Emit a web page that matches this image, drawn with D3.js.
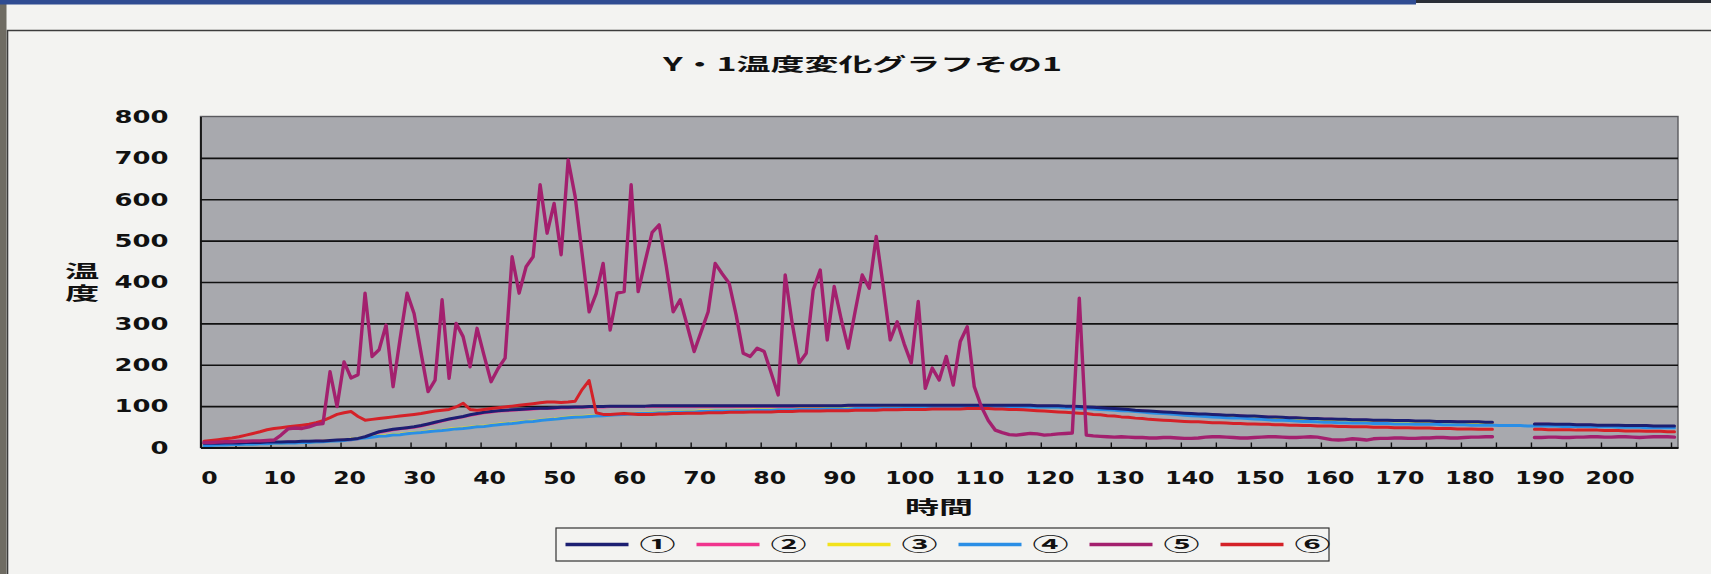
<!DOCTYPE html>
<html>
<head>
<meta charset="utf-8">
<script src="https://cdn.jsdelivr.net/npm/d3@7"></script>
<style>
  html, body { margin: 0; padding: 0; background: #f3f3f1; }
  svg { display: block; }
</style>
</head>
<body>
<svg id="chart" width="1711" height="574"></svg>
<script>
// ---- chart text ----
const chartTitle = "Y・1温度変化グラフその1";
const yTitle = "温度";
const xTitle = "時間";
const seriesNames = ["①", "②", "③", "④", "⑤", "⑥"];
const seriesColors = ["#1c1f72", "#f0348e", "#f2e21c", "#2a8ee6", "#a3206e", "#d42128"];

// ---- axes ----
const yTicks = [0, 100, 200, 300, 400, 500, 600, 700, 800];
const gridValues = [100, 200, 300, 400, 500, 600, 700];
const xTickLabels = [0, 10, 20, 30, 40, 50, 60, 70, 80, 90, 100, 110, 120, 130, 140, 150, 160, 170, 180, 190, 200];
const xTickMarks = [0, 5, 10, 15, 20, 25, 30, 35, 40, 45, 50, 55, 60, 65, 70, 75, 80, 85, 90, 95, 100,
  105, 110, 115, 120, 125, 130, 135, 140, 145, 150, 155, 160, 165, 170, 175, 180, 185, 190, 195, 200, 205, 210];

// time in minutes, one category per minute (0 … 210)
const categories = d3.range(0, 211);

// ---- temperature series (null = no reading) ----
const s1 = [
  10,10,10,11,11,11,12,12,12,13, 13,13,14,14,15,15,16,16,17,18,
  19,20,22,26,32,38,41,44,46,48, 50,53,57,61,65,69,72,75,79,82,
  85,87,89,90,91,92,93,94,95,95, 96,97,97,98,98,99,99,99,100,100,
  100,100,100,100,101,101,101,101,101,101, 101,101,101,101,101,101,101,101,101,101,
  101,101,101,101,101,101,101,101,101,101, 101,101,102,102,102,102,102,102,102,102,
  102,102,102,102,102,102,102,102,102,102, 102,102,102,102,102,102,102,102,102,101,
  101,101,101,100,100,99,98,97,96,95, 94,93,92,90,89,88,87,86,85,84,
  83,82,81,81,80,79,78,78,77,76, 76,75,74,74,73,72,72,71,70,70,
  69,69,68,68,67,67,67,66,66,66, 65,65,65,64,64,64,63,63,63,62,
  62,62,62,61,61,null,null,null,null,null, 57,57,57,56,56,56,55,55,55,54,
  54,54,54,53,53,53,53,52,52,52,52
];
const s2 = [
  9,9,9,10,10,10,11,11,11,12, 12,12,13,13,14,14,15,15,16,17,
  18,19,21,25,31,37,40,43,45,47, 49,52,56,60,64,68,71,74,78,81,
  84,86,88,89,90,91,92,93,94,94, 95,96,96,97,97,98,98,98,99,99,
  99,99,99,99,100,100,100,100,100,100, 100,100,100,100,100,100,100,100,100,100,
  100,100,100,100,100,100,100,100,100,100, 100,100,101,101,101,101,101,101,101,101,
  101,101,101,101,101,101,101,101,101,101, 101,101,101,101,101,101,101,101,100,100,
  100,100,99,99,98,97,96,95,94,93, 92,91,90,89,88,87,86,85,84,83,
  82,81,80,80,79,78,77,77,76,75, 75,74,73,73,72,71,71,70,69,69,
  68,68,67,67,66,66,66,65,65,65, 64,64,64,63,63,63,62,62,62,61,
  61,61,61,60,60,null,null,null,null,null, 56,56,56,55,55,55,54,54,54,53,
  53,53,53,52,52,52,52,51,51,51,51
];
const s3 = [
  6,6,7,7,8,8,9,9,10,10, 11,11,12,12,13,13,14,15,16,17,
  18,20,22,24,26,28,29,31,32,34, 36,37,39,41,42,44,46,47,49,51,
  52,54,56,58,59,61,63,64,66,68, 69,71,73,74,75,76,77,78,79,80,
  81,82,83,83,84,85,85,86,86,87, 87,88,88,89,89,89,90,90,90,91,
  91,91,92,92,92,93,93,93,93,94, 94,94,94,95,95,95,95,96,96,96,
  97,97,97,97,98,98,98,98,98,99, 99,99,99,99,99,99,99,99,99,98,
  98,98,98,97,97,96,95,94,93,92, 91,90,89,88,87,86,85,84,83,82,
  80,79,78,77,76,75,74,73,73,72, 71,70,69,68,68,67,66,65,65,64,
  63,63,62,62,61,61,61,60,60,60, 59,59,59,58,58,58,58,57,57,57,
  57,56,56,56,56,null,null,null,null,null, 53,53,53,53,52,52,52,52,51,51,
  51,51,50,50,50,50,49,49,49,49,49
];
const s4 = [
  5,5,6,6,7,7,8,8,9,9, 10,10,11,11,12,12,13,14,15,16,
  17,19,21,23,25,27,28,30,31,33, 35,36,38,40,41,43,45,46,48,50,
  51,53,55,57,58,60,62,63,65,67, 68,70,72,73,74,75,76,77,78,79,
  80,81,82,82,83,84,84,85,85,86, 86,87,87,88,88,88,89,89,89,90,
  90,90,91,91,91,92,92,92,92,93, 93,93,93,94,94,94,94,95,95,95,
  96,96,96,96,97,97,97,97,97,98, 98,98,98,98,98,98,98,98,98,97,
  97,97,97,96,96,95,94,93,92,91, 90,89,88,87,86,84,83,82,81,80,
  78,77,76,75,74,73,72,71,71,70, 69,68,67,66,66,65,64,63,63,62,
  61,61,60,60,59,59,59,58,58,58, 57,57,57,56,56,56,56,55,55,55,
  55,54,54,54,54,53,53,53,53,52, 52,52,52,52,51,51,51,51,50,50,
  50,50,49,49,49,49,48,48,48,48,48
];
const s5 = [
  12,12,13,14,14,15,15,16,16,17, 18,30,45,47,46,50,56,58,183,99,
  207,168,176,373,220,236,296,147,262,373, 324,228,135,163,357,167,300,268,195,288,
  222,159,191,216,461,373,437,461,635,518, 590,466,695,607,468,328,372,445,284,373,
  377,635,377,450,520,538,440,328,357,295, 232,280,328,445,420,397,320,228,220,240,
  232,180,127,417,300,204,228,381,429,260, 389,310,240,330,417,385,510,390,260,304,
  250,204,353,143,192,163,220,151,256,292, 147,99,65,42,36,31,30,32,34,33,
  30,31,33,34,35,361,30,28,27,26, 25,26,25,24,24,23,23,24,24,23,
  22,22,23,25,26,26,25,24,23,23, 24,25,26,26,25,24,24,25,26,25,
  22,19,18,19,21,20,18,21,22,22, 23,23,22,22,23,23,24,24,23,23,
  24,25,25,26,26,null,null,null,null,null, 24,24,25,25,24,24,25,25,26,26,
  25,25,26,26,25,24,25,26,26,26,25
];
const s6 = [
  15,17,19,21,23,26,30,34,38,43, 46,48,50,52,54,56,60,65,72,80,
  84,87,75,66,68,70,72,74,76,78, 80,82,85,88,90,92,98,107,92,90,
  92,94,96,98,100,102,104,106,108,110, 110,109,110,112,140,162,84,80,80,81,
  82,81,80,80,80,81,81,82,82,83, 83,83,84,84,84,85,85,85,86,86,
  86,86,87,87,87,88,88,88,88,89, 89,89,89,90,90,90,90,91,91,91,
  92,92,92,92,93,93,93,93,93,94, 94,94,94,93,93,92,92,91,90,89,
  88,87,86,85,84,83,82,80,79,77, 76,74,73,71,70,68,67,66,65,64,
  63,62,62,61,60,60,59,58,58,57, 57,56,56,55,55,54,54,53,53,52,
  52,52,51,51,50,50,50,49,49,49, 48,48,48,47,47,47,46,46,46,45,
  45,45,44,44,44,null,null,null,null,null, 44,44,43,43,43,43,42,42,42,42,
  41,41,41,40,40,40,39,39,39,38,38
];
const seriesValues = [s1, s2, s3, s4, s5, s6];
// painting order: ② ③ ④ ① ⑥ ⑤
const drawOrder = [1, 2, 3, 0, 5, 4];

// ---- layout ----
const W = 1711, H = 574;
const plot = { left: 200.5, right: 1678, top: 116.5, bottom: 447.5 };
const numFont = "'DejaVu Sans', sans-serif";
const jpFont = "'Noto Sans CJK JP', 'Noto Sans CJK SC', sans-serif";

const svg = d3.select("#chart");

// page: scanner edge, top strip and frame
svg.append("rect").attr("x", 0).attr("y", 0).attr("width", W).attr("height", H).attr("fill", "#f3f3f1");
svg.append("rect").attr("x", 0).attr("y", 0).attr("width", 6.5).attr("height", H).attr("fill", "#6f6c63");
svg.append("rect").attr("x", 0).attr("y", 0).attr("width", W).attr("height", 3).attr("fill", "#2b2f37");
svg.append("rect").attr("x", 0).attr("y", 0).attr("width", 1416).attr("height", 4.5).attr("fill", "#2f4c92");
svg.append("path").attr("d", `M7.5,${H} V30.5 H${W}`)
  .attr("fill", "none").attr("stroke", "#3c3c3c").attr("stroke-width", 1.6);

// ---- scales ----
const x = d3.scaleBand().domain(categories).range([plot.left, plot.right]).padding(0);
const xEdge = d3.scaleLinear().domain([0, categories.length]).range([plot.left, plot.right]);
const y = d3.scaleLinear().domain([0, 800]).range([plot.bottom, plot.top]);

// plot area
svg.append("rect")
  .attr("x", plot.left).attr("y", plot.top)
  .attr("width", plot.right - plot.left).attr("height", plot.bottom - plot.top)
  .attr("fill", "#a8a9ae").attr("stroke", "#5a5a5e").attr("stroke-width", 1.4);

// horizontal gridlines
const grid = svg.append("g").attr("transform", `translate(${plot.left},0)`)
  .call(d3.axisLeft(y).tickValues(gridValues).tickSize(-(plot.right - plot.left)).tickFormat(""));
grid.select(".domain").remove();
grid.selectAll("line").attr("stroke", "#111").attr("stroke-width", 1.7);

// y axis labels
const yAxis = svg.append("g").attr("transform", `translate(${plot.left},0)`)
  .call(d3.axisLeft(y).tickValues(yTicks).tickSize(0).tickPadding(32));
yAxis.select(".domain").attr("stroke", "#111").attr("stroke-width", 1.8);
yAxis.selectAll("text")
  .attr("font-family", numFont).attr("font-weight", "bold").attr("font-size", 18)
  .attr("fill", "#111")
  .attr("textLength", d => String(d).length * 18)
  .attr("lengthAdjust", "spacingAndGlyphs");

// x axis labels (category centres)
const xAxis = svg.append("g").attr("transform", `translate(${x.bandwidth() / 2 + 2},${plot.bottom})`)
  .call(d3.axisBottom(x).tickValues(xTickLabels).tickSize(0).tickPadding(24));
xAxis.select(".domain").remove();
xAxis.selectAll("text")
  .attr("font-family", numFont).attr("font-weight", "bold").attr("font-size", 17)
  .attr("fill", "#111")
  .attr("textLength", d => String(d).length * 16.4)
  .attr("lengthAdjust", "spacingAndGlyphs");

// x axis line with inside tick marks on category boundaries
const xMarks = svg.append("g").attr("transform", `translate(0,${plot.bottom})`)
  .call(d3.axisBottom(xEdge).tickValues(xTickMarks).tickSize(-5).tickSizeOuter(0).tickFormat(""));
xMarks.select(".domain").attr("stroke", "#111").attr("stroke-width", 2);
xMarks.selectAll("line").attr("stroke", "#111").attr("stroke-width", 1.4);

// ---- series lines ----
const line = d3.line()
  .defined(d => d != null)
  .x((d, i) => x(categories[i]) + x.bandwidth() / 2)
  .y(d => y(d));

svg.append("g").selectAll("path")
  .data(drawOrder)
  .join("path")
  .attr("d", k => line(seriesValues[k]))
  .attr("fill", "none")
  .attr("stroke", k => seriesColors[k])
  .attr("stroke-width", k => k === 4 ? 3.4 : 3)
  .attr("stroke-linejoin", "round")
  .attr("stroke-linecap", "round");

// ---- titles ----
svg.append("text")
  .attr("x", 663).attr("y", 65).attr("dy", "0.36em")
  .attr("font-family", jpFont).attr("font-weight", "bold").attr("font-size", 18)
  .attr("fill", "#111")
  .attr("textLength", 399).attr("lengthAdjust", "spacingAndGlyphs")
  .text(chartTitle);

// vertical axis title, set top-to-bottom and widened
svg.append("text")
  .attr("transform", "translate(82,284) scale(1.9,1)")
  .attr("writing-mode", "vertical-rl")
  .attr("text-anchor", "middle")
  .attr("font-family", jpFont).attr("font-weight", "bold").attr("font-size", 18)
  .attr("letter-spacing", 3.5)
  .attr("fill", "#111")
  .text(yTitle);

svg.append("text")
  .attr("x", 939).attr("y", 508).attr("dy", "0.36em")
  .attr("text-anchor", "middle")
  .attr("font-family", jpFont).attr("font-weight", "bold").attr("font-size", 18)
  .attr("fill", "#111")
  .attr("textLength", 68).attr("lengthAdjust", "spacingAndGlyphs")
  .text(xTitle);

// ---- legend ----
const legend = { left: 556, top: 528, width: 773, height: 33, pitch: 131 };
svg.append("rect")
  .attr("x", legend.left).attr("y", legend.top)
  .attr("width", legend.width).attr("height", legend.height)
  .attr("fill", "none").attr("stroke", "#333").attr("stroke-width", 1.2);

const items = svg.append("g").selectAll("g")
  .data(seriesNames)
  .join("g")
  .attr("transform", (d, i) => `translate(${legend.left + 9.5 + i * legend.pitch},${legend.top + legend.height / 2})`);
items.append("line")
  .attr("x1", 0).attr("x2", 63).attr("y1", 0).attr("y2", 0)
  .attr("stroke", (d, i) => seriesColors[i]).attr("stroke-width", 3.5);
items.append("text")
  .attr("x", 74).attr("y", 0).attr("dy", "0.36em")
  .attr("font-family", jpFont).attr("font-weight", "bold").attr("font-size", 18)
  .attr("fill", "#111")
  .attr("textLength", 36).attr("lengthAdjust", "spacingAndGlyphs")
  .text(d => d);
</script>
</body>
</html>
